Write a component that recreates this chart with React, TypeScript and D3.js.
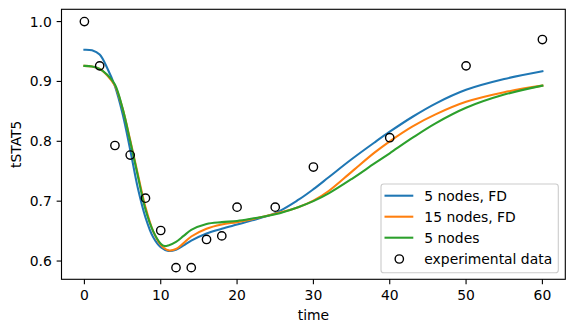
import React from "react";
import * as d3 from "d3";

const W = 575;
const H = 332;

const expTime = [0, 2, 4, 6, 8, 10, 12, 14, 16, 18, 20, 25, 30, 40, 50, 60];
const expValue = [1.0, 0.926, 0.793, 0.777, 0.705, 0.651, 0.589, 0.589, 0.636, 0.642, 0.690, 0.690, 0.757, 0.806, 0.926, 0.970];

const blueT = [0, 1, 2, 3, 4, 5, 6, 7, 8, 9, 10, 11, 12, 13, 14, 16, 18, 20, 22, 25, 28, 30, 32, 35, 38, 40, 43, 46, 50, 55, 60];
const blueV = [0.953, 0.952, 0.945, 0.922, 0.892, 0.846, 0.786, 0.722, 0.673, 0.640, 0.623, 0.617, 0.619, 0.626, 0.634, 0.646, 0.654, 0.661, 0.668, 0.680, 0.702, 0.720, 0.740, 0.770, 0.798, 0.816, 0.841, 0.863, 0.886, 0.904, 0.917];

const orangeT = [0, 1, 2, 3, 4, 5, 6, 7, 8, 9, 10, 11, 12, 13, 14, 16, 18, 20, 22, 25, 28, 30, 32, 35, 38, 40, 43, 46, 50, 55, 60];
const orangeV = [0.926, 0.925, 0.921, 0.910, 0.893, 0.855, 0.802, 0.745, 0.690, 0.650, 0.627, 0.618, 0.620, 0.630, 0.641, 0.654, 0.661, 0.665, 0.670, 0.679, 0.690, 0.701, 0.717, 0.749, 0.781, 0.800, 0.825, 0.845, 0.866, 0.882, 0.893];

const greenT = [0, 1, 2, 3, 4, 5, 6, 7, 8, 9, 10, 10.5, 11, 12, 13, 14, 16, 18, 20, 22, 25, 28, 30, 32, 35, 38, 40, 43, 46, 50, 55, 60];
const greenV = [0.926, 0.925, 0.921, 0.911, 0.895, 0.855, 0.800, 0.742, 0.686, 0.650, 0.629, 0.625, 0.626, 0.632, 0.642, 0.652, 0.662, 0.665, 0.667, 0.671, 0.678, 0.690, 0.700, 0.713, 0.737, 0.763, 0.780, 0.806, 0.830, 0.856, 0.878, 0.893];

const xTicks = [0, 10, 20, 30, 40, 50, 60];
const yTicks = [0.6, 0.7, 0.8, 0.9, 1.0];

const seriesNames = ["5 nodes, FD", "15 nodes, FD", "5 nodes", "experimental data"];
const seriesColors = ["#1f77b4", "#ff7f0e", "#2ca02c"];

const margin = { left: 61.5, right: 9.7, top: 9.3, bottom: 52.7 };

export default function App() {
  const x = d3.scaleLinear().domain([-3, 63]).range([margin.left, W - margin.right]);
  const y = d3.scaleLinear().domain([0.5695, 1.0205]).range([H - margin.bottom, margin.top]);
  const line = d3
    .line<[number, number]>()
    .x((d) => x(d[0]))
    .y((d) => y(d[1]))
    .curve(d3.curveCatmullRom.alpha(0.5));

  const series = [
    blueT.map((t, i) => [t, blueV[i]] as [number, number]),
    orangeT.map((t, i) => [t, orangeV[i]] as [number, number]),
    greenT.map((t, i) => [t, greenV[i]] as [number, number]),
  ];

  const font = "DejaVu Sans, sans-serif";
  const fs = 13.9;
  const x0 = margin.left;
  const x1 = W - margin.right;
  const y0 = margin.top;
  const y1 = H - margin.bottom;

  const legX = 381;
  const legY = 184;
  const legW = 177.3;
  const legH = 88.7;
  const rowY = [195.7, 216.7, 237.7, 259];

  return (
    <svg width={W} height={H} style={{ position: "absolute", left: 0, top: 0 }} fontFamily={font}>
      <rect x={0} y={0} width={W} height={H} fill="#fff" />
      {series.map((s, i) => (
        <path key={i} d={line(s) || ""} fill="none" stroke={seriesColors[i]} strokeWidth={2.08} strokeLinecap="square" />
      ))}
      {expTime.map((t, i) => (
        <circle key={i} cx={x(t)} cy={y(expValue[i])} r={4.17} fill="none" stroke="#000" strokeWidth={1.39} />
      ))}
      <rect x={x0} y={y0} width={x1 - x0} height={y1 - y0} fill="none" stroke="#000" strokeWidth={1.11} />
      {xTicks.map((t) => (
        <g key={t}>
          <line x1={x(t)} x2={x(t)} y1={y1} y2={y1 + 4.86} stroke="#000" strokeWidth={1.11} />
          <text x={x(t)} y={y1 + 21} textAnchor="middle" fontSize={fs} fill="#000">
            {t}
          </text>
        </g>
      ))}
      {yTicks.map((v) => (
        <g key={v}>
          <line x1={x0 - 4.86} x2={x0} y1={y(v)} y2={y(v)} stroke="#000" strokeWidth={1.11} />
          <text x={x0 - 9.7} y={y(v) + 5} textAnchor="end" fontSize={fs} fill="#000">
            {v.toFixed(1)}
          </text>
        </g>
      ))}
      <text x={(x0 + x1) / 2} y={320} textAnchor="middle" fontSize={fs} fill="#000">
        time
      </text>
      <text transform={`translate(21,${(y0 + y1) / 2}) rotate(-90)`} textAnchor="middle" fontSize={fs} fill="#000">
        tSTAT5
      </text>
      <rect x={legX} y={legY} width={legW} height={legH} rx={2.8} fill="#fff" fillOpacity={0.8} stroke="#cccccc" strokeWidth={1.11} />
      {seriesNames.map((name, i) => (
        <g key={name}>
          {i < 3 ? (
            <line x1={384.5} x2={413.3} y1={rowY[i]} y2={rowY[i]} stroke={seriesColors[i]} strokeWidth={2.08} />
          ) : (
            <circle cx={399.3} cy={rowY[i]} r={4.17} fill="none" stroke="#000" strokeWidth={1.39} />
          )}
          <text x={424.3} y={rowY[i] + 5} fontSize={fs} fill="#000">
            {name}
          </text>
        </g>
      ))}
    </svg>
  );
}
